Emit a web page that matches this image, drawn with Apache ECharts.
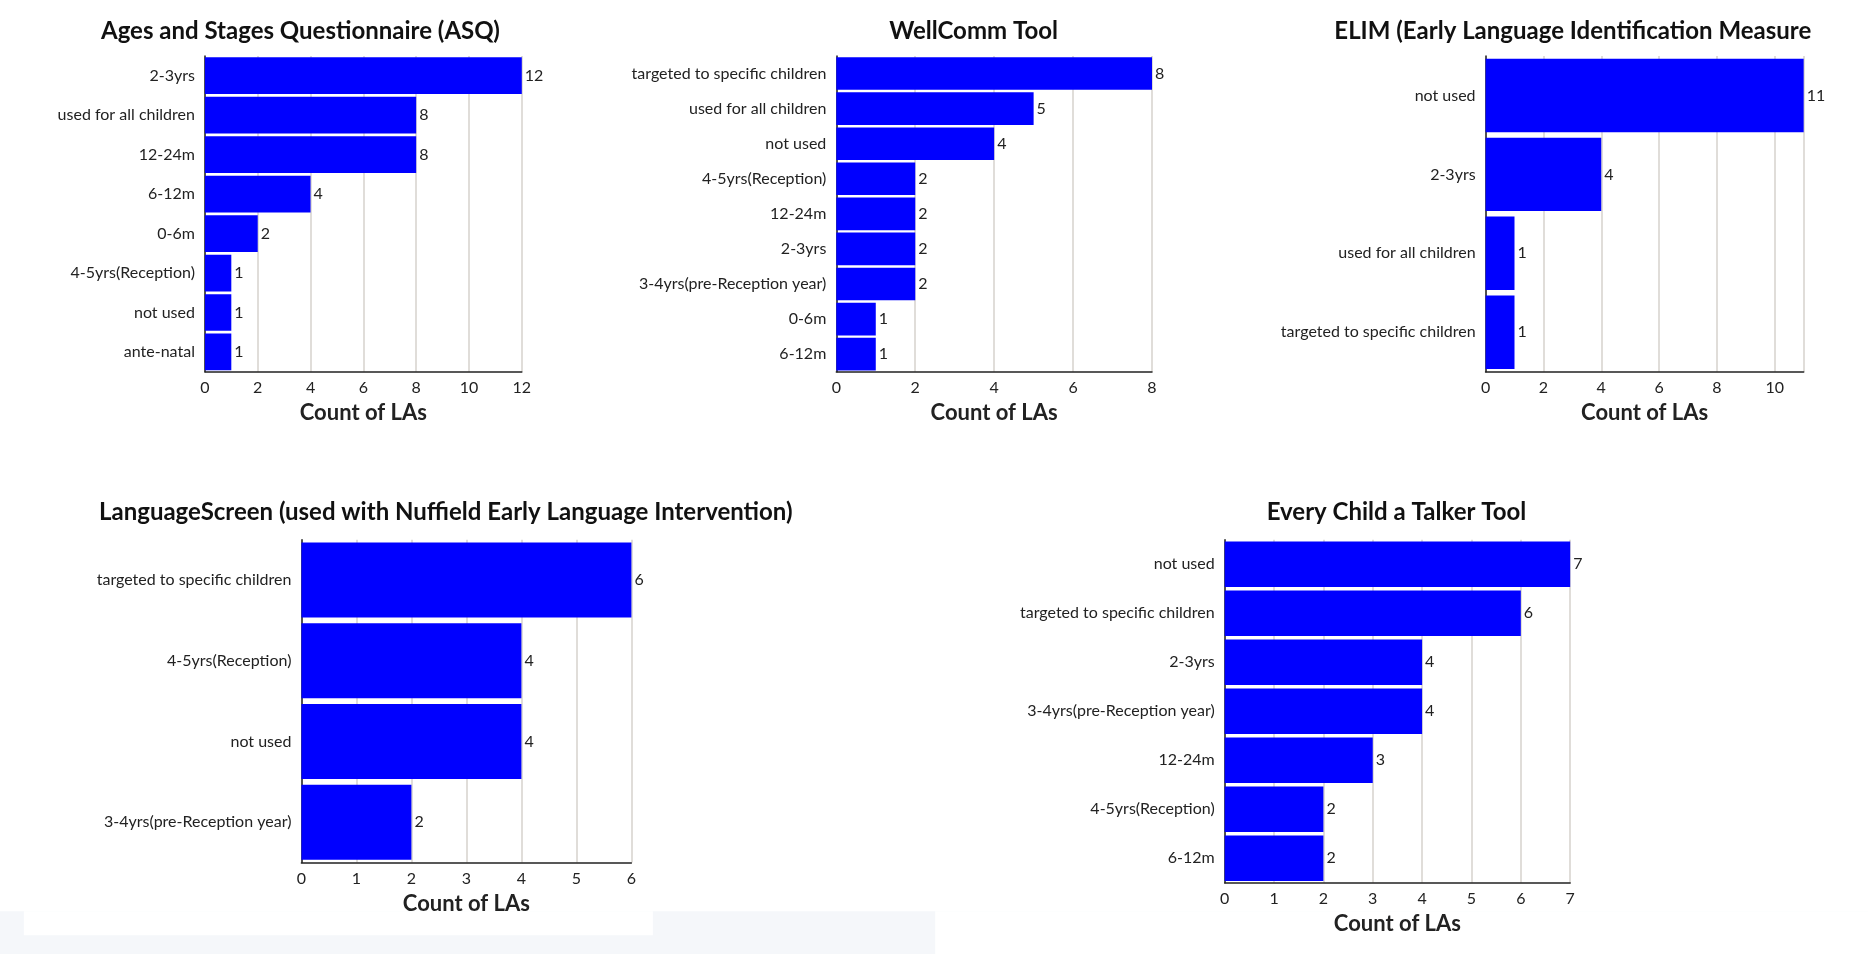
<!DOCTYPE html>
<html><head><meta charset="utf-8">
<script src="https://cdn.jsdelivr.net/npm/echarts@6/dist/echarts.min.js"></script>
<style>html,body{margin:0;padding:0;background:#fff}#main{width:1868px;height:954px}</style>
</head><body><div id="main"></div>
<script>
var asqCats = ["2-3yrs","used for all children","12-24m","6-12m","0-6m","4-5yrs(Reception)","not used","ante-natal"];
var asqVals = [12,8,8,4,2,1,1,1];
var wellCats = ["targeted to specific children","used for all children","not used","4-5yrs(Reception)","12-24m","2-3yrs","3-4yrs(pre-Reception year)","0-6m","6-12m"];
var wellVals = [8,5,4,2,2,2,2,1,1];
var elimCats = ["not used","2-3yrs","used for all children","targeted to specific children"];
var elimVals = [11,4,1,1];
var lsCats = ["targeted to specific children","4-5yrs(Reception)","not used","3-4yrs(pre-Reception year)"];
var lsVals = [6,4,4,2];
var ecatCats = ["not used","targeted to specific children","2-3yrs","3-4yrs(pre-Reception year)","12-24m","4-5yrs(Reception)","6-12m"];
var ecatVals = [7,6,4,4,3,2,2];

var S = 1868/1568;
var font = "Lato, 'Open Sans', sans-serif";
// panels in reference pixel space: grid left,top,right,bottom; title x,y,align; axis max/interval
var panels = [
  {title:"Ages and Stages Questionnaire (ASQ)", tx:248, ty:22, g:[172,47,438,312], cats:asqCats, vals:asqVals, max:12, interval:2},
  {title:"WellComm Tool", tx:813, ty:22, g:[702,47,967,312], cats:wellCats, vals:wellVals, max:8, interval:2},
  {title:"ELIM (Early Language Identification Measure", tx:1316, ty:22, g:[1247,47,1514,312], cats:elimCats, vals:elimVals, max:11, interval:2},
  {title:"LanguageScreen (used with Nuffield Early Language Intervention)", tx:370, ty:426, g:[253,453,530,724], cats:lsCats, vals:lsVals, max:6, interval:1},
  {title:"Every Child a Talker Tool", tx:1168, ty:426, g:[1028,453,1318,741], cats:ecatCats, vals:ecatVals, max:7, interval:1}
];

var option = {backgroundColor:"#fff", animation:false, title:[], grid:[], xAxis:[], yAxis:[], series:[],
  graphic:[{type:"rect", z:-10, shape:{x:0,y:765*S,width:1868,height:36*S}, style:{fill:"#f5f7fa"}},
           {type:"rect", z:-9, shape:{x:20*S,y:765*S,width:528*S,height:20*S}, style:{fill:"#fff"}},
           {type:"rect", z:-9, shape:{x:785*S,y:765*S,width:783*S,height:36*S}, style:{fill:"#fff"}}]};

panels.forEach(function(p, i){
  option.title.push({text:p.title, left:p.tx*S, top:p.ty*S, textAlign:"center", textVerticalAlign:"middle",
    textStyle:{fontFamily:font, fontWeight:"bold", fontSize:24, color:"#111"}});
  option.grid.push({left:p.g[0]*S, top:p.g[1]*S, width:(p.g[2]-p.g[0])*S, height:(p.g[3]-p.g[1])*S, containLabel:false});
  option.xAxis.push({gridIndex:i, type:"value", min:0, max:p.max, interval:p.interval,
    name:"Count of LAs", nameLocation:"middle", nameGap:30,
    nameTextStyle:{fontFamily:font, fontWeight:"bold", fontSize:22, color:"#222"},
    axisLine:{show:true, lineStyle:{color:"#222", width:1.5}}, axisTick:{show:false},
    axisLabel:{fontFamily:font, fontSize:16, color:"#222", showMaxLabel:p.max % p.interval === 0},
    splitLine:{show:true, lineStyle:{color:"#d6d2cc", width:1.5}}});
  option.yAxis.push({gridIndex:i, type:"category", data:p.cats, inverse:true,
    axisLine:{show:true, lineStyle:{color:"#222", width:1.5}}, axisTick:{show:false},
    axisLabel:{fontFamily:font, fontSize:16, color:"#222", margin:10}});
  option.series.push({type:"bar", xAxisIndex:i, yAxisIndex:i, data:p.vals, barCategoryGap:"7%",
    itemStyle:{color:"#0000ff"},
    label:{show:true, position:"right", distance:3, fontFamily:font, fontSize:16, color:"#222"}});
});

var chart = echarts.init(document.getElementById("main"));
chart.setOption(option);
</script>
</body></html>
